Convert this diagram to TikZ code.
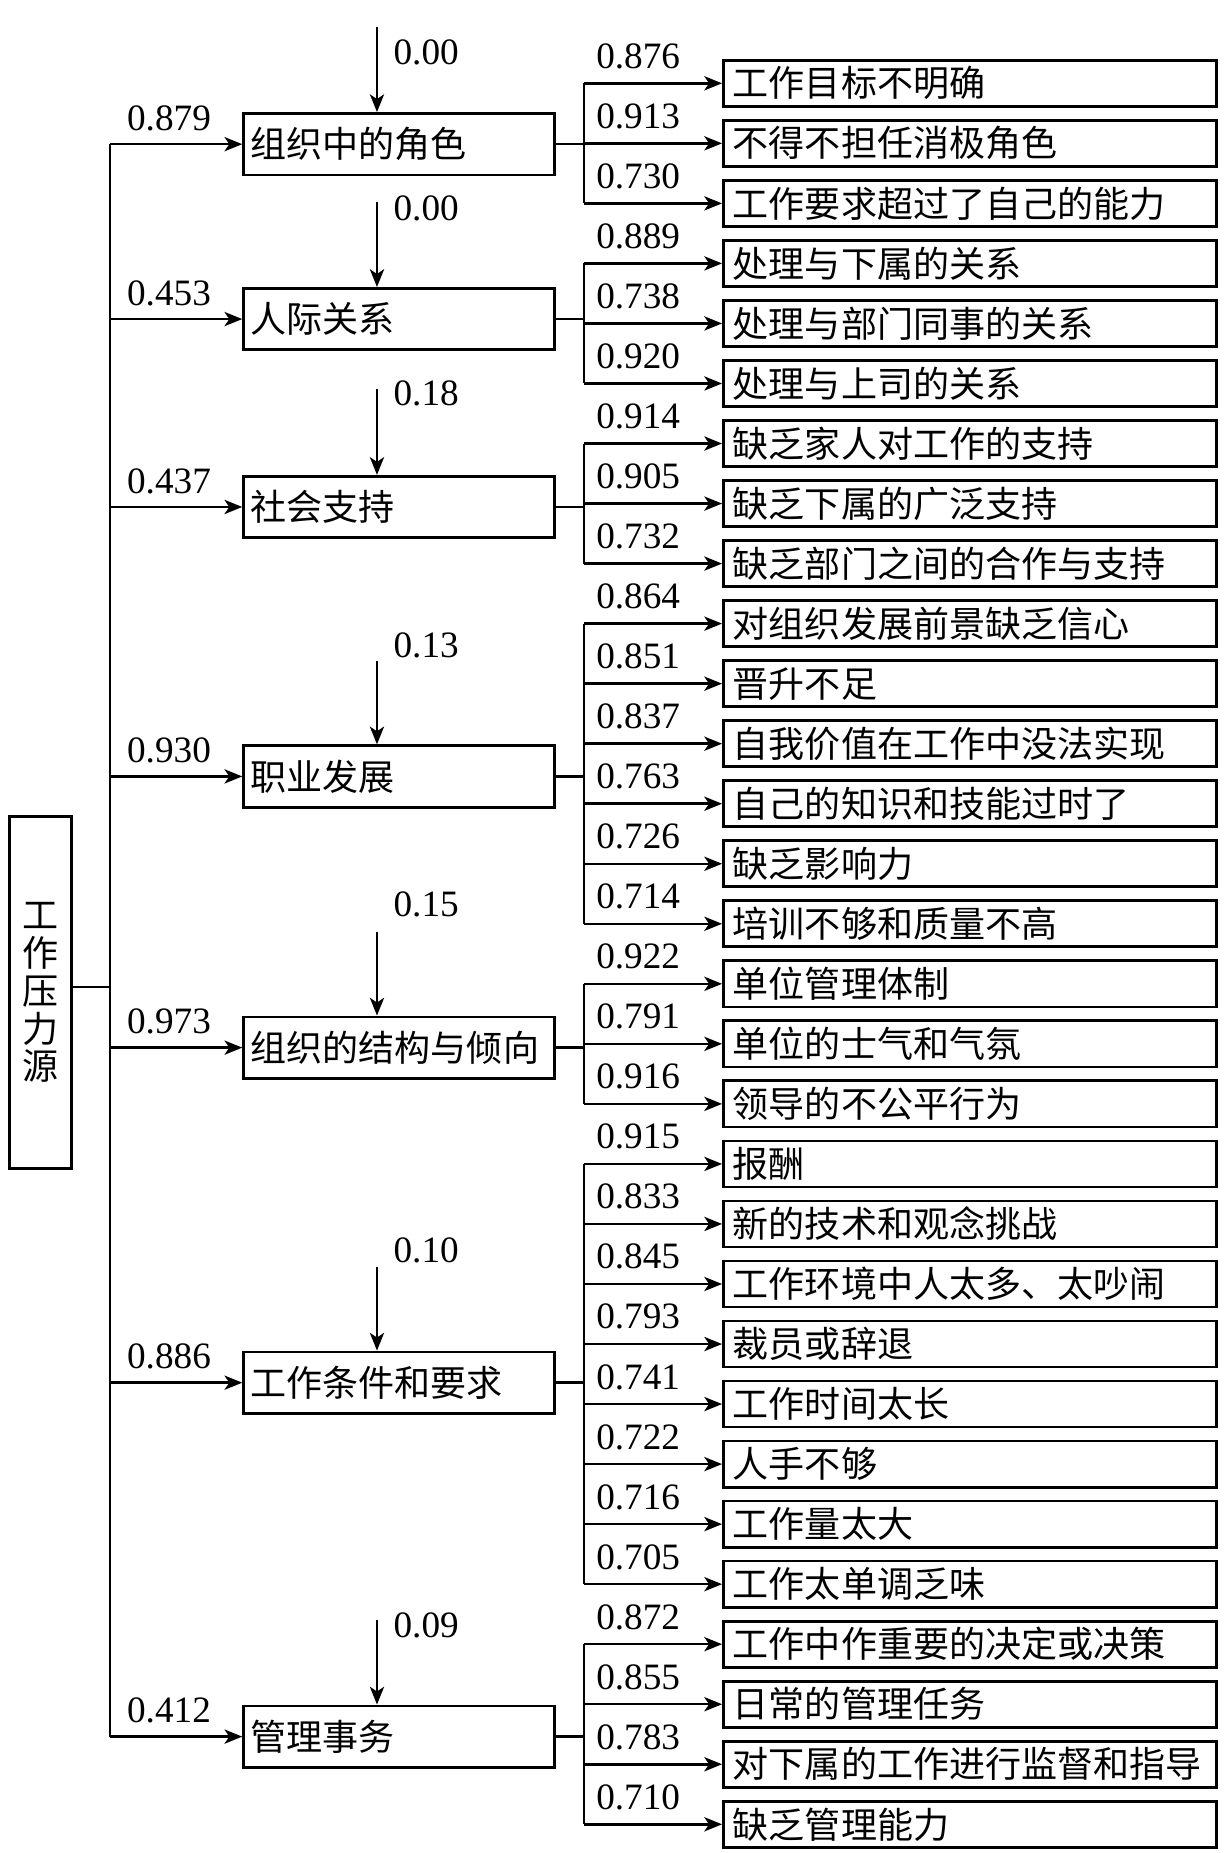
\documentclass[tikz,border=0pt]{standalone}
\usepackage{fontspec}
\setmainfont{Liberation Serif}
\newfontfamily\cjk{Noto Sans CJK SC}
\usetikzlibrary{arrows.meta}
\begin{document}
\begin{tikzpicture}[x=1pt,y=-1pt,
  line width=2.1pt,
  arr/.style={-{Stealth[length=15pt,width=12pt,inset=4pt]}},
  cjkfont/.style={font=\cjk\fontsize{30.5}{32}\selectfont},
  lbox/.style={draw,rectangle,line width=2.3pt,anchor=west,minimum height=52pt,text width=251pt,inner xsep=6pt,inner ysep=0pt,align=left,cjkfont},
  rbox/.style={draw,rectangle,line width=2.3pt,anchor=west,minimum height=39pt,text width=401pt,inner xsep=8pt,inner ysep=0pt,align=left,cjkfont},
  num/.style={font=\fontsize{31.5}{32}\selectfont,inner sep=0pt},
]
\useasboundingbox (0,0) rectangle (1036,1568);

% root
\node[draw,rectangle,line width=2.3pt,minimum width=52.5pt,minimum height=298pt,inner sep=0pt,align=center,cjkfont] (root) at (34,840) {工\\作\\压\\力\\源};

% left boxes
\node[lbox] (l1) at (205,122) {组织中的角色};
\node[lbox] (l2) at (205,270) {人际关系};
\node[lbox] (l3) at (205,429) {社会支持};
\node[lbox] (l4) at (205,657) {职业发展};
\node[lbox] (l5) at (205,886.5) {组织的结构与倾向};
\node[lbox] (l6) at (205,1170) {工作条件和要求};
\node[lbox] (l7) at (205,1469.5) {管理事务};

% left labels
\foreach \k/\v in {1/0.879,2/0.453,3/0.437,4/0.930,5/0.973,6/0.886,7/0.412}{
  \node[num] (w\k) at ([yshift=22pt]l\k.west -| 143,0) {\v};
}

% main trunk
\coordinate (mv) at (93,0);
\coordinate (rj) at ([yshift=5pt]root.east);
\draw (rj) -- (mv |- rj);
\draw (mv |- l1.west) -- (mv |- l7.west);
\foreach \k in {1,...,7}{
  \draw[arr] (mv |- l\k.west) -- (l\k.west);
}

% top arrows with labels
\foreach \k/\ys/\ly/\v in {1/23/44/0.00,2/171/176/0.00,3/329/333/0.18,4/559/546/0.13,5/789/765/0.15,6/1072/1058/0.10,7/1371/1375/0.09}{
  \coordinate (t\k) at (319,\ys);
  \draw[arr] (t\k) -- (t\k |- l\k.north);
  \node[num,anchor=west] (e\k) at (332,\ly) {\v};
}

% right boxes
\foreach \i/\t/\v in {
  0/工作目标不明确/0.876,
  1/不得不担任消极角色/0.913,
  2/工作要求超过了自己的能力/0.730,
  3/处理与下属的关系/0.889,
  4/处理与部门同事的关系/0.738,
  5/处理与上司的关系/0.920,
  6/缺乏家人对工作的支持/0.914,
  7/缺乏下属的广泛支持/0.905,
  8/缺乏部门之间的合作与支持/0.732,
  9/对组织发展前景缺乏信心/0.864,
  10/晋升不足/0.851,
  11/自我价值在工作中没法实现/0.837,
  12/自己的知识和技能过时了/0.763,
  13/缺乏影响力/0.726,
  14/培训不够和质量不高/0.714,
  15/单位管理体制/0.922,
  16/单位的士气和气氛/0.791,
  17/领导的不公平行为/0.916,
  18/报酬/0.915,
  19/新的技术和观念挑战/0.833,
  20/工作环境中人太多、太吵闹/0.845,
  21/裁员或辞退/0.793,
  22/工作时间太长/0.741,
  23/人手不够/0.722,
  24/工作量太大/0.716,
  25/工作太单调乏味/0.705,
  26/工作中作重要的决定或决策/0.872,
  27/日常的管理任务/0.855,
  28/对下属的工作进行监督和指导/0.783,
  29/缺乏管理能力/0.710}{
  \pgfmathsetmacro{\cy}{70.5+50.8*\i}
  \node[rbox] (r\i) at (611,\cy) {\t};
  \node[num] (n\i) at (540,\cy-23) {\v};
}

% right branches
\coordinate (rv) at (494,0);
\foreach \k/\a/\b in {1/0/2,2/3/5,3/6/8,4/9/14,5/15/17,6/18/25,7/26/29}{
  \draw (l\k.east) -- (rv |- l\k.east);
  \draw (rv |- r\a.west) -- (rv |- r\b.west);
  \foreach \j in {\a,...,\b}{
    \draw[arr] (rv |- r\j.west) -- (r\j.west);
  }
}
\end{tikzpicture}
\end{document}
